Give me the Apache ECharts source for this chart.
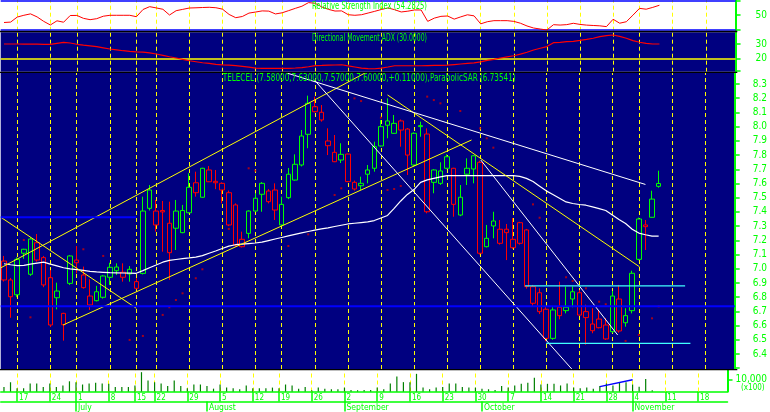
<!DOCTYPE html>
<html><head><meta charset="utf-8">
<script src="https://cdn.jsdelivr.net/npm/echarts@6/dist/echarts.min.js"></script>
<style>html,body{margin:0;padding:0;background:#fff}#c{width:770px;height:412px}</style>
</head><body><div id="c"></div>
<script>
// ---------- DATA ----------
const dates = ['06-13','06-14','06-17','06-18','06-19','06-20','06-21','06-24','06-25','06-26','06-27',
'07-01','07-02','07-03','07-04','07-05','07-08','07-09','07-10','07-11','07-15','07-16','07-17',
'07-22','07-23','07-24','07-25','07-26','07-29','07-30','07-31','08-01','08-02','08-05','08-06',
'08-07','08-08','08-09','08-12','08-13','08-14','08-16','08-19','08-20','08-21','08-22','08-23',
'08-26','08-27','08-28','08-29','08-30','09-02','09-03','09-04','09-05','09-06','09-09','09-10',
'09-11','09-12','09-13','09-16','09-17','09-18','09-19','09-20','09-23','09-24','09-25','09-26',
'09-27','09-30','10-01','10-02','10-03','10-04','10-07','10-08','10-09','10-10','10-11','10-14',
'10-15','10-16','10-17','10-18','10-21','10-22','10-23','10-24','10-25','10-28','10-29','10-30',
'10-31','11-04','11-05','11-06','11-07','11-08','11-11','11-12','11-13','11-14','11-15','11-18',
'11-19','11-20','11-21','11-22'];

const weekTicks = ['06-17','06-24','07-01','07-08','07-15','07-22','07-29','08-05','08-12','08-19','08-26',
'09-02','09-09','09-16','09-23','09-30','10-07','10-14','10-21','10-28','11-04','11-11','11-18'];
const monthStarts = ['07-01','08-01','09-02','10-01','11-04'];
const monthNames = ['July','August','September','October','November'];

// [open, close, low, high]
const candles = [
[7.054,6.921,6.91,7.09],[6.921,6.803,6.655,6.935],
[6.817,7.066,6.80,7.08],[7.109,7.137,7.07,7.14],[6.961,7.209,6.95,7.22],[7.183,7.061,7.05,7.244],[7.078,6.886,6.87,7.09],
[6.937,6.604,6.59,6.99],[6.796,6.843,6.714,6.902],[6.606,6.686,6.494,6.69],[6.897,7.090,6.886,7.095],
[7.042,7.061,6.968,7.160],[6.956,6.867,6.86,7.015],[6.808,6.745,6.710,6.926],[6.838,6.775,6.77,6.88],[6.799,6.949,6.79,6.955],
[6.940,7.010,6.886,7.042],[6.986,7.012,6.956,7.038],[6.940,6.975,6.909,7.038],[6.963,6.996,6.909,7.019],
[6.862,6.909,6.855,6.933],[6.967,7.406,6.96,7.507],[7.425,7.554,7.41,7.589],
[7.308,7.406,7.261,7.484],[7.41,7.40,7.12,7.477],[7.320,7.113,6.921,7.472],[7.285,7.406,7.132,7.484],[7.254,7.410,7.25,7.449],
[7.394,7.573,7.39,7.672],[7.605,7.535,7.507,7.683],[7.503,7.707,7.50,7.71],[7.612,7.695,7.61,7.723],[7.615,7.605,7.56,7.695],
[7.554,7.601,7.46,7.608],[7.535,7.308,7.30,7.55],[7.449,7.167,7.155,7.46],[7.207,7.155,7.15,7.261],[7.249,7.406,7.214,7.41],
[7.406,7.496,7.40,7.531],[7.524,7.601,7.401,7.61],[7.472,7.547,7.46,7.56],[7.554,7.413,7.343,7.601],
[7.308,7.453,7.30,7.507],[7.500,7.665,7.49,7.709],[7.624,7.735,7.62,7.805],[7.730,7.934,7.72,7.976],[7.946,8.164,7.848,8.218],
[8.140,8.105,8.10,8.211],[8.101,8.047,8.035,8.152],[7.899,7.866,7.800,7.988],[7.819,7.753,7.75,7.941],[7.765,7.805,7.744,7.883],
[7.807,7.613,7.61,7.81],[7.608,7.561,7.55,7.62],[7.584,7.601,7.554,7.648],[7.665,7.695,7.601,7.730],[7.707,7.859,7.683,7.894],
[7.864,8.000,7.86,8.047],[8.040,8.010,7.918,8.199],[7.953,8.023,7.95,8.082],[8.040,7.976,7.859,8.05],[7.983,7.800,7.660,7.99],
[7.730,7.953,7.72,7.96],[8.000,8.007,7.929,8.035],[7.948,7.401,7.39,7.988],[7.695,7.608,7.531,7.70],[7.601,7.688,7.59,7.749],
[7.788,7.707,7.70,7.805],[7.707,7.453,7.366,7.71],[7.378,7.503,7.37,7.589],[7.665,7.707,7.589,7.777],[7.702,7.795,7.601,7.80],
[7.749,7.109,7.10,7.76],[7.155,7.214,7.15,7.308],[7.336,7.301,7.214,7.401],[7.179,7.278,7.17,7.343],[7.278,7.254,7.061,7.315],
[7.148,7.207,7.14,7.357],[7.324,7.179,7.17,7.33],[7.273,6.874,6.86,7.28],[6.874,6.757,6.738,6.886],[6.831,6.698,6.681,6.862],
[6.715,6.510,6.49,6.73],[6.510,6.710,6.50,6.729],[6.729,6.670,6.644,6.909],[6.729,6.705,6.686,6.874],[6.838,6.787,6.729,6.874],
[6.831,6.674,6.67,6.85],[6.698,6.656,6.465,6.747],[6.564,6.611,6.546,6.722],[6.646,6.585,6.58,6.710],[6.604,6.506,6.50,6.653],
[6.557,6.808,6.55,6.843],[6.787,6.562,6.55,6.886],[6.620,6.670,6.592,6.722],[6.705,6.968,6.686,6.986],
[7.066,7.350,7.06,7.36],[7.308,7.296,7.132,7.343],[7.362,7.490,7.36,7.549],[7.58,7.60,7.57,7.69]
];

const movingAvg = [7.035,7.028,
7.022,7.024,7.032,7.040,7.046,7.032,7.020,7.007,6.999,6.994,6.988,6.982,6.978,6.975,6.972,6.971,6.970,6.969,6.968,
6.987,7.007,7.026,7.046,7.059,7.065,7.071,7.076,7.082,7.092,7.109,7.125,7.142,7.159,7.169,7.173,7.177,7.181,7.187,
7.198,7.209,7.220,7.231,7.242,7.252,7.262,7.272,7.280,7.288,7.297,7.306,7.315,7.320,7.325,7.330,7.339,7.357,7.375,
7.425,7.477,7.523,7.557,7.608,7.625,7.636,7.647,7.655,7.655,7.655,7.655,7.655,7.655,7.655,7.655,7.655,7.655,7.655,
7.650,7.636,7.614,7.581,7.548,7.522,7.496,7.470,7.459,7.452,7.447,7.435,7.423,7.410,7.378,7.347,7.318,7.278,7.251,
7.239,7.230,7.230];

const sar = [['06-18',7.202],['06-19',6.658],['07-02',7.137],['07-05',7.090],['07-11',6.499],['07-16',6.527],
['07-23',6.675],['07-24',6.729],['07-25',6.780],['07-26',6.827],['07-30',6.933],['07-31',6.996],['08-06',7.280],
['08-09',7.707],['08-12',7.690],['08-20',7.160],['08-23',7.242],['08-29',7.519],['08-30',7.566],['09-03',8.199],
['09-04',8.180],['09-09',8.063],['09-10',7.554],['09-11',7.561],['09-12',7.582],['09-18',8.211],['09-19',8.187],
['09-20',8.164],['09-25',8.110],['09-30',7.988],['10-01',7.918],['10-02',7.852],['10-10',7.453],['10-11',7.359],
['10-17',6.940],['10-18',6.914],['10-22',6.862],['10-24',6.768],['10-25',6.750],['10-30',6.492],['11-04',6.534],
['11-06',6.651],['11-07',6.735]];

const rsi = [39.6,40.2,47.3,49.8,51.8,47.5,41.2,36.1,42.0,40.0,
49.5,49.6,45.5,43.6,45.0,48.5,49.8,49.8,49.8,49.8,
47.8,58.0,62.0,60.2,58.3,50.2,56.3,58.2,60.1,60.4,
60.8,61.1,60.5,58.5,51.0,46.4,48.1,52.9,54.4,56.0,
55.7,51.7,53.3,56.4,59.6,62.6,67.7,66.8,61.6,58.2,
55.8,56.0,50.6,49.8,50.6,53.0,55.4,58.0,60.2,57.7,
54.5,55.6,57.3,57.3,41.2,45.8,48.3,48.8,44.4,47.6,
50.5,49.0,37.7,40.7,42.2,42.2,42.2,41.2,38.6,34.7,
31.8,30.4,29.0,36.5,36.0,36.6,38.5,36.9,35.9,35.4,
34.9,33.8,44.2,38.6,40.7,50.0,59.6,58.4,61.0,64.0];

const adx = [30,30,30,29.9,29.9,29.9,29.8,29.8,30.5,31.1,
30.7,29.8,29.2,28.7,28.1,27.3,26.5,25.9,25.3,24.8,
24.5,24.3,23.8,23.0,22.1,21.1,20.2,19.2,18.3,17.6,
16.9,16.4,15.8,15.4,15.2,14.9,14.4,13.8,13.1,13,
13,13,13,13,13.2,13.5,14.1,14.9,15.0,15.2,
15.3,15.5,14.7,13.9,13.1,12.8,12.7,13.1,13.9,14.8,
14.8,14.8,14.8,14.8,14.9,15.0,15.1,15.2,15.6,16.0,
16.4,16.8,17.5,18.5,19.3,20.2,21.0,21.8,22.9,24.2,
25.8,27.0,28.2,30.9,31.2,31.6,31.9,32.5,33.2,34.0,
35.2,35.9,36.3,35.3,34.0,32.4,31.2,30.4,30.0,30.0];

const volume = [3700,7800,2700,2700,6800,6800,3700,6800,3700,5100,
8600,7800,5900,6800,7300,6800,6500,3700,3700,3700,
5100,16300,9200,7800,6800,4600,9200,4600,2700,5900,
5900,4600,2400,5900,3300,2700,1900,5100,2700,2700,
2700,3300,2700,5900,5100,2400,3700,1100,3300,2400,
1900,1900,3300,1300,1100,1300,1300,3300,1900,6800,
12700,7900,7900,14900,3300,1900,3300,3800,6800,6800,
3800,3300,3300,2400,1900,1300,4600,3300,5100,6500,
7300,11700,5900,6500,6500,5100,6800,3300,2700,3300,
2400,4600,6800,5100,7300,7800,5900,4000,10600,1000];

// trend lines: [[slot, price],[slot, price]] (slot = position in dates)
const yellowLines = [
  [[-0.5,7.006],[55.5,8.40]],
  [[8.93,6.604],[70.7,7.906]],
  [[-0.5,7.363],[20.0,6.722]],
  [[58.0,8.223],[96.1,7.014]]
];
const whiteLines = [
  [[42.8,8.377],[97.0,7.593]],
  [[46.9,8.330],[86.0,6.287]],
  [[72.1,7.765],[92.8,6.534]]
];
const cyanLines = [
  [[78.8,6.879],[103.0,6.879]],
  [[82.0,6.475],[103.8,6.475]]
];
const blueLines = [
  [[-0.5,7.362],[20.0,7.362]],
  [[-0.5,6.736],[110.5,6.736]]
];
const volumeTrend = [[91,4100],[96,10000]];

const priceTicks = [6.3,6.4,6.5,6.6,6.7,6.8,6.9,7.0,7.1,7.2,7.3,7.4,7.5,7.6,7.7,7.8,7.9,8.0,8.1,8.2,8.3];
const priceLabels = [6.4,6.5,6.6,6.7,6.8,6.9,7.0,7.1,7.2,7.3,7.4,7.5,7.6,7.7,7.8,7.9,8.0,8.1,8.2,8.3];

const rsiTitle = 'Relative Strength Index (54.2825)';
const adxTitle = 'Directional Movement ADX (30.0000)';
const mainTitle = 'TELECEL (7.58000,7.63000,7.57000,7.60000,+0.11000),ParabolicSAR (6.73541)';

// ---------- CHART ----------
const GREEN='#00ff00', RED='#ff0000', NAVY='#000080', YEL='#ffff00';
const FONT="'Liberation Sans Narrow','DejaVu Sans Condensed','Liberation Sans',sans-serif";
const weekSet = new Set(weekTicks), monthSet = new Set(monthStarts);
const L=0.7, R=32.5;

function vLines(extra){
  return {silent:true, symbol:['none','none'], label:{show:false}, z:1, animation:false,
    lineStyle:{color:YEL,width:1,type:[4,3]},
    data: weekTicks.map(d=>({xAxis:d})).concat(extra||[])};
}
const candleData = candles.map((c,i)=>{
  const prev = i>0 ? candles[i-1][1] : c[0];
  const col = c[1] >= prev ? GREEN : RED;
  return {value:c, itemStyle:{color:NAVY, color0:col, borderColor:col, borderColor0:col, borderWidth:1}};
});
function segSeries(list, color, width, xi, yi){
  return list.map(seg=>({type:'line', xAxisIndex:xi, yAxisIndex:yi, data:seg, symbol:'none', z:4,
    silent:true, animation:false, lineStyle:{color, width}}));
}
function fitScale(text,size,w){
  const c=document.createElement('canvas').getContext('2d'); c.font=size+'px '+FONT;
  return w/c.measureText(text).width;
}
function title(text,x,y,w){
  return {type:'text', x, y, z:100, scaleX:fitScale(text,10,w),
    style:{text, fill:GREEN, font:'10px '+FONT, verticalAlign:'middle', align:'left'}};
}
const hidX = k=>({type:'category', gridIndex:k, data:dates, show:false, boundaryGap:true});
const yBase = (k,min,max,ticks,labels,margin,fmt)=>({type:'value', gridIndex:k, position:'right', min, max,
  splitLine:{show:false}, axisLine:{show:true, onZero:false, lineStyle:{color:GREEN,width:2}},
  axisTick:{show:true, length:5, customValues:ticks, lineStyle:{color:GREEN,width:1.5}},
  axisLabel:{show:true, customValues:labels, color:GREEN, fontSize:10, fontFamily:FONT, margin, formatter:fmt}});

const option = {
  animation:false, backgroundColor:'#ffffff',
  grid:[
    {left:L,right:R,top:0,height:30.7,show:true,backgroundColor:'#ffffff',borderWidth:0},
    {left:L,right:R,top:32.3,height:39.4,show:true,backgroundColor:NAVY,borderWidth:0},
    {left:L,right:R,top:73,height:296,show:true,backgroundColor:NAVY,borderWidth:0},
    {left:L,right:R,top:370.3,height:22,show:true,backgroundColor:'#ffffff',borderWidth:0}
  ],
  xAxis:[
    hidX(0), hidX(1), hidX(2),
    {type:'category', gridIndex:3, data:dates, position:'bottom', boundaryGap:true,
      axisLine:{show:true, lineStyle:{color:GREEN,width:1.5}},
      axisTick:{show:true, alignWithLabel:true, length:10, interval:(i,v)=>weekSet.has(v), lineStyle:{color:GREEN,width:1.5}},
      axisLabel:{show:true, interval:(i,v)=>weekSet.has(v), formatter:v=>String(parseInt(v.slice(3),10)),
        color:GREEN, fontSize:8, fontFamily:FONT, align:'left', margin:2, padding:[0,0,0,2]},
      splitLine:{show:false}},
    {type:'category', gridIndex:3, data:dates, position:'bottom', offset:10, boundaryGap:true,
      axisLine:{show:true, lineStyle:{color:GREEN,width:1.5}},
      axisTick:{show:true, alignWithLabel:true, length:10, interval:(i,v)=>monthSet.has(v), lineStyle:{color:GREEN,width:1.5}},
      axisLabel:{show:true, interval:(i,v)=>monthSet.has(v), formatter:v=>monthNames[monthStarts.indexOf(v)],
        color:GREEN, fontSize:8.5, fontFamily:FONT, align:'left', margin:1.5, padding:[0,0,0,2]},
      splitLine:{show:false}},
    {type:'value', gridIndex:2, min:-0.5, max:dates.length-0.5, show:false},
    {type:'value', gridIndex:3, min:-0.5, max:dates.length-0.5, show:false}
  ],
  yAxis:[
    yBase(0,28.02,71.41,[30,50,70],[50],20),
    yBase(1,10.63,38.18,[11.1,20,30],[20,30],20),
    yBase(2,6.2944,8.3774,priceTicks,priceLabels,18,v=>v.toFixed(1)),
    yBase(3,0,17886,[10000],[10000],8)
  ],
  graphic:[
    {type:'rect', z:100, shape:{x:0,y:30.7,width:737.3,height:1.6}, style:{fill:'#000'}},
    {type:'rect', z:100, shape:{x:0,y:71.7,width:737.3,height:1.3}, style:{fill:'#000'}},
    {type:'rect', z:100, shape:{x:0,y:369,width:737.3,height:1.3}, style:{fill:'#000'}},
    title(rsiTitle,312,6.5,115),
    title(adxTitle,312,38.5,115),
    title(mainTitle,222.7,78.5,293),
    {type:'text', x:741, y:388, z:100, style:{text:'(x100)', fill:GREEN, font:'8px '+FONT, verticalAlign:'middle'}}
  ],
  series:[
    {type:'line', xAxisIndex:0, yAxisIndex:0, data:rsi, symbol:'none', z:3, lineStyle:{color:RED,width:1},
      markLine:vLines([{yAxis:70, lineStyle:{color:'#0000ff',type:'solid',width:1.5}},{yAxis:30, lineStyle:{color:'#0000ff',type:'solid',width:1.5}}])},
    {type:'line', xAxisIndex:1, yAxisIndex:1, data:adx, symbol:'none', z:3, lineStyle:{color:RED,width:1.2},
      markLine:vLines([{yAxis:20, lineStyle:{color:YEL,type:'solid',width:1.5}}])},
    {type:'scatter', xAxisIndex:2, yAxisIndex:2, data:sar, symbol:'rect', symbolSize:2, z:2,
      itemStyle:{color:'#d00000'}, markLine:vLines()},
    {type:'candlestick', xAxisIndex:2, yAxisIndex:2, data:candleData, barWidth:5, z:3},
    {type:'line', xAxisIndex:2, yAxisIndex:2, data:movingAvg, symbol:'none', z:4, lineStyle:{color:'#ffffff',width:1.2}},
    ...segSeries(yellowLines, YEL, 1, 5, 2),
    ...segSeries(whiteLines, '#ffffff', 1, 5, 2),
    ...segSeries(cyanLines, '#40ffff', 1.2, 5, 2),
    ...segSeries(blueLines, '#0000ff', 2, 5, 2),
    {type:'bar', xAxisIndex:3, yAxisIndex:3, data:volume, barWidth:1.2, z:3, itemStyle:{color:'#008000'}, markLine:vLines()},
    {type:'line', xAxisIndex:6, yAxisIndex:3, data:volumeTrend, symbol:'none', z:4, lineStyle:{color:'#0000ff',width:1.5}}
  ]
};
const chart = echarts.init(document.getElementById('c'));
chart.setOption(option);
</script>
</body></html>
